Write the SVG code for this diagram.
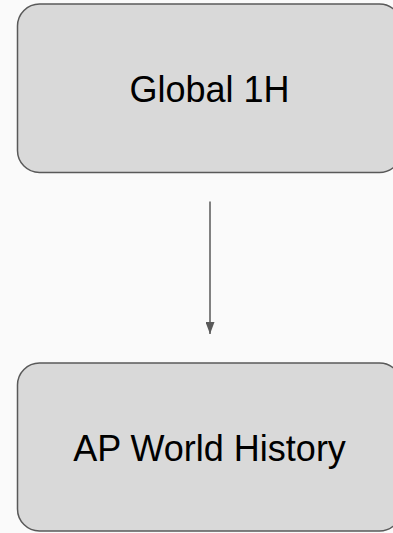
<svg xmlns="http://www.w3.org/2000/svg" width="393" height="533" viewBox="0 0 393 533">
<style>
.node{fill:#d9d9d9;stroke:#595959;stroke-width:1.5}
.lbl{font-family:"Liberation Sans",Arial,sans-serif;font-size:36px;fill:#000;text-anchor:middle}
.edge{stroke:#595959;stroke-width:1.5;fill:none}
</style>
<defs>
<marker id="ah" markerWidth="12" markerHeight="9" refX="12" refY="4.5" orient="auto" markerUnits="userSpaceOnUse">
<path d="M0,0 L12,4.5 L0,9 Z" fill="#595959"/>
</marker>
</defs>
<rect width="393" height="533" fill="#fafafa"/>
<g id="n1">
<rect class="node" x="17.5" y="4" width="384" height="168.5" rx="22" ry="22"/>
<text class="lbl" x="209.5" y="101.5">Global 1H</text>
</g>
<g id="n2">
<rect class="node" x="17.5" y="363" width="384" height="168" rx="22" ry="22"/>
<text class="lbl" x="209.5" y="460.5">AP World History</text>
</g>
<g id="edges">
<line class="edge" x1="210" y1="201.5" x2="210" y2="334" marker-end="url(#ah)"/>
</g>
</svg>
